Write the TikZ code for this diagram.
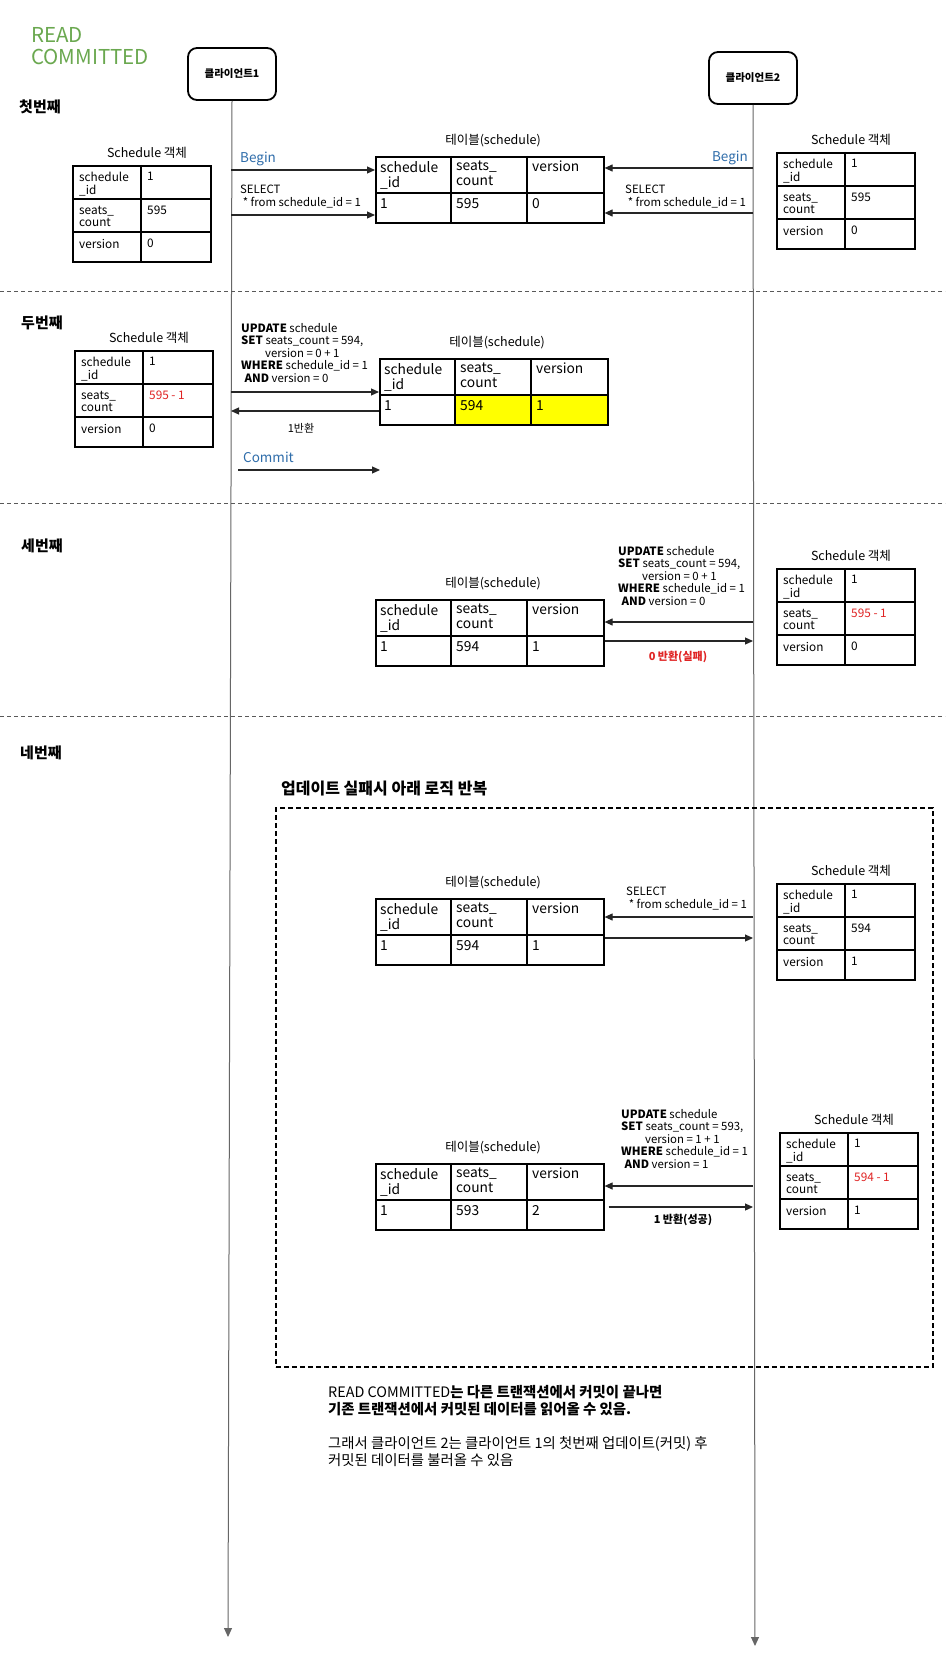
\documentclass[tikz,border=0pt]{standalone}
\usepackage{fontspec}
\setmainfont{Noto Sans CJK KR}
\usetikzlibrary{arrows.meta}
\definecolor{rcgreen}{HTML}{6AA84F}
\definecolor{msgblue}{HTML}{2F6DAA}
\definecolor{valred}{HTML}{E02424}
\definecolor{hiyellow}{HTML}{FFFF00}
\tikzset{
  tabframe/.style={draw=black, line width=1.6pt, inner sep=0pt, anchor=north west},
  tabline/.style={line width=1.4pt},
  mcell/.style={anchor=north west, align=left, inner sep=3pt, font=\fontsize{13.8}{15}\selectfont},
  ocell/.style={anchor=north west, align=left, inner sep=3pt, font=\fontsize{11.8}{12.5}\selectfont},
  ttitle/.style={inner sep=1pt, font=\fontsize{12.5}{14}\selectfont},
  sqltxt/.style={anchor=north west, align=left, inner sep=2pt, font=\fontsize{11.4}{12.5}\selectfont},
  msg/.style={-{Triangle[length=8pt,width=7pt]}, line width=1.1pt, draw=black!85},
  life/.style={-{Triangle[length=9pt,width=8pt]}, line width=1pt, draw=black!60},
  sepline/.style={line width=0.9pt, draw=black!65, dash pattern=on 4pt off 3pt},
  client/.style={draw=black, line width=1.8pt, rounded corners=9pt, minimum width=88pt, minimum height=52pt, inner sep=2pt, font=\bfseries\fontsize{10.5}{12}\selectfont},
  sect/.style={anchor=west, inner sep=0pt, font=\bfseries\fontsize{15}{17}\selectfont},
  blu/.style={text=msgblue, inner sep=1pt, font=\fontsize{13.5}{15}\selectfont},
  small/.style={inner sep=1pt, font=\fontsize{11}{13}\selectfont},
  note/.style={anchor=north west, align=left, inner sep=0pt, font=\fontsize{14.4}{17.5}\selectfont}
}
\newcommand{\midtab}[7]{%
\begin{scope}[shift={(#2,#3)}]
  \fill[#7] (76,37) rectangle (228,66);
  \node[tabframe, minimum width=228pt, minimum height=66pt] (#1) at (0,0) {};
  \draw[tabline] (0,37) -- (228,37) (76,0) -- (76,66) (152,0) -- (152,66);
  \node[mcell] (#1h1) at (2,2) {schedule\\\_id};
  \node[mcell] (#1h2) at (78,2) {seats\_\\count};
  \node[mcell] (#1h3) at (154,2) {version};
  \node[mcell] (#1v1) at (2,39) {#4};
  \node[mcell] (#1v2) at (78,39) {#5};
  \node[mcell] (#1v3) at (154,39) {#6};
  \node[ttitle] (#1t) at (118,-15) {테이블(schedule)};
\end{scope}}
\newcommand{\objtab}[6]{%
\begin{scope}[shift={(#2,#3)}]
  \node[tabframe, minimum width=138pt, minimum height=96pt] (#1) at (0,0) {};
  \draw[tabline] (0,34) -- (138,34) (0,67) -- (138,67) (69,0) -- (69,96);
  \node[ocell] (#1h1) at (4,4) {schedule\\\_id};
  \node[ocell] (#1h2) at (4,38) {seats\_\\count};
  \node[ocell] (#1h3) at (4,71) {version};
  \node[ocell] (#1v1) at (72,4) {#4};
  \node[ocell] (#1v2) at (72,38) {#5};
  \node[ocell] (#1v3) at (72,71) {#6};
  \node[ttitle] (#1t) at (75,-12) {Schedule 객체};
\end{scope}}
\begin{document}
\begin{tikzpicture}[x=1pt,y=-1pt]
\useasboundingbox (0,0) rectangle (945,1680);
\fill[white] (0,0) rectangle (945,1680);

% title
\node[anchor=north west, align=left, inner sep=0pt, text=rcgreen, font=\fontsize{20.5}{22}\selectfont] (rc) at (31,27) {READ\\COMMITTED};

% clients and lifelines
\node[client] (c1) at (232,74) {클라이언트1};
\node[client] (c2) at (753,78) {클라이언트2};
\coordinate (l1e) at (228,1637);
\coordinate (l2e) at (755,1646);
\draw[life] (c1.south) -- (l1e);
\draw[life] (c2.south) -- (l2e);

% separators
\draw[sepline] (0,291) -- (945,291);
\draw[sepline] (0,503) -- (945,503);
\draw[sepline] (0,716) -- (945,716);

% section labels
\node[sect] (s1) at (19,107) {첫번째};
\node[sect] (s2) at (21,323) {두번째};
\node[sect] (s3) at (21,546) {세번째};
\node[sect] (s4) at (20,753) {네번째};

% ---------- section 1
\objtab{Oa}{72}{165}{1}{595}{0}
\midtab{Ta}{375}{156}{1}{595}{0}{white}
\objtab{Ob}{776}{152}{1}{595}{0}
\node[blu, anchor=west] (bg1) at (239,159) {Begin};
\node[sqltxt] (sel1) at (238,183) {SELECT\\\ * from schedule\_id = 1};
\node[blu, anchor=east] (bg2) at (749,158) {Begin};
\node[sqltxt] (sel2) at (623,183) {SELECT\\\ * from schedule\_id = 1};
\coordinate (m1) at (231,170);
\coordinate (m2) at (231,215);
\coordinate (m3) at (753,168);
\coordinate (m4) at (753,213);
\draw[msg] (m1) -- (Ta.west |- m1);
\draw[msg] (m2) -- (Ta.west |- m2);
\draw[msg] (m3) -- (Ta.east |- m3);
\draw[msg] (m4) -- (Ta.east |- m4);

% ---------- section 2
\objtab{Oc}{74}{350}{1}{\textcolor{valred}{595 - 1}}{0}
\midtab{Tb}{379}{358}{1}{594}{1}{hiyellow}
\node[sqltxt] (upd1) at (239,321) {\textbf{UPDATE} schedule\\\textbf{SET} seats\_count = 594,\\\hspace*{2.1em}version = 0 + 1\\\textbf{WHERE} schedule\_id = 1\\\hspace*{0.3em}\textbf{AND} version = 0};
\coordinate (m5) at (231,392);
\coordinate (m6) at (231,411);
\draw[msg] (m5) -- (Tb.west |- m5);
\draw[msg] (Tb.west |- m6) -- (m6);
\node[small] (ret1) at (301,428) {1반환};
\node[blu, anchor=west] (cm) at (242,457) {Commit};
\coordinate (cms) at (238,470);
\coordinate (cme) at (380,470);
\draw[msg] (cms) -- (cme);

% ---------- section 3
\objtab{Od}{776}{568}{1}{\textcolor{valred}{595 - 1}}{0}
\midtab{Tc}{375}{599}{1}{594}{1}{white}
\node[sqltxt] (upd2) at (616,544) {\textbf{UPDATE} schedule\\\textbf{SET} seats\_count = 594,\\\hspace*{2.1em}version = 0 + 1\\\textbf{WHERE} schedule\_id = 1\\\hspace*{0.3em}\textbf{AND} version = 0};
\coordinate (m7) at (753,622);
\coordinate (m8) at (753,641);
\draw[msg] (m7) -- (Tc.east |- m7);
\draw[msg] (Tc.east |- m8) -- (m8);
\node[small, text=valred, font=\bfseries\fontsize{11}{13}\selectfont] (ret2) at (678,657) {0 반환(실패)};

% ---------- section 4
\node[anchor=west, inner sep=0pt, font=\bfseries\fontsize{16}{18}\selectfont] (loop) at (281,789) {업데이트 실패시 아래 로직 반복};
\node[draw=black, line width=1.8pt, dash pattern=on 5pt off 3pt, anchor=north west, minimum width=657pt, minimum height=559pt, inner sep=0pt] (box) at (275,807) {};

\midtab{Td}{375}{898}{1}{594}{1}{white}
\objtab{Oe}{776}{883}{1}{594}{1}
\node[sqltxt] (sel3) at (624,885) {SELECT\\\ * from schedule\_id = 1};
\coordinate (m9) at (753,917);
\coordinate (m10) at (753,938);
\draw[msg] (m9) -- (Td.east |- m9);
\draw[msg] (Td.east |- m10) -- (m10);

\midtab{Te}{375}{1163}{1}{593}{2}{white}
\objtab{Of}{779}{1132}{1}{\textcolor{valred}{594 - 1}}{1}
\node[sqltxt] (upd3) at (619,1107) {\textbf{UPDATE} schedule\\\textbf{SET} seats\_count = 593,\\\hspace*{2.1em}version = 1 + 1\\\textbf{WHERE} schedule\_id = 1\\\hspace*{0.3em}\textbf{AND} version = 1};
\coordinate (m11) at (753,1186);
\coordinate (m12) at (753,1207);
\draw[msg] (m11) -- (Te.east |- m11);
\draw[msg] ([xshift=4pt]Te.east |- m12) -- (m12);
\node[small, font=\bfseries\fontsize{11}{13}\selectfont] (ret3) at (683,1220) {1 반환(성공)};

% ---------- notes
\node[note] (n1) at (328,1385) {READ COMMITTED\textbf{는 다른 트랜잭션에서 커밋이 끝나면}\\\textbf{기존 트랜잭션에서 커밋된 데이터를 읽어올 수 있음.}};
\node[note] (n2) at (328,1436) {그래서 클라이언트 2는 클라이언트 1의 첫번째 업데이트(커밋) 후\\커밋된 데이터를 불러올 수 있음};
\end{tikzpicture}
\end{document}
